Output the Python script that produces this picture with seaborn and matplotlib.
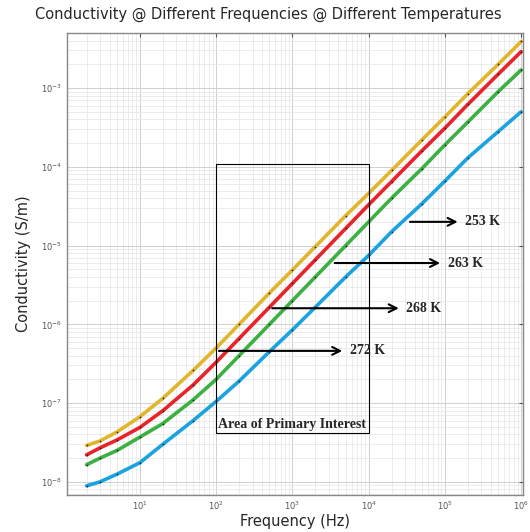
import seaborn as sns
import matplotlib.pyplot as plt
import matplotlib.ticker as mticker
import pandas as pd

# frequencies (Hz)
freq = [2, 3, 5, 10, 20, 50, 100, 200, 500, 1e3, 2e3, 5e3, 1e4, 2e4, 5e4, 1e5, 2e5, 5e5, 1e6]

# conductivity (S/m) per temperature
sig_272 = [2.9e-8, 3.3e-8, 4.3e-8, 6.7e-8, 1.15e-7, 2.6e-7, 5.0e-7, 1.0e-6, 2.5e-6, 4.9e-6,
           9.7e-6, 2.4e-5, 4.6e-5, 9.0e-5, 2.2e-4, 4.3e-4, 8.5e-4, 2.0e-3, 3.9e-3]
sig_268 = [2.2e-8, 2.7e-8, 3.4e-8, 4.9e-8, 8.0e-8, 1.7e-7, 3.3e-7, 6.6e-7, 1.65e-6, 3.3e-6,
           6.6e-6, 1.65e-5, 3.3e-5, 6.5e-5, 1.6e-4, 3.1e-4, 6.2e-4, 1.5e-3, 2.9e-3]
sig_263 = [1.65e-8, 2.0e-8, 2.5e-8, 3.7e-8, 5.5e-8, 1.1e-7, 2.0e-7, 4.0e-7, 1.0e-6, 2.0e-6,
           4.0e-6, 1.0e-5, 2.0e-5, 4.0e-5, 9.5e-5, 1.9e-4, 3.7e-4, 9.0e-4, 1.7e-3]
sig_253 = [8.9e-9, 1.0e-8, 1.25e-8, 1.75e-8, 3.0e-8, 6.0e-8, 1.05e-7, 1.9e-7, 4.5e-7, 8.5e-7,
           1.65e-6, 4.0e-6, 7.5e-6, 1.5e-5, 3.4e-5, 6.6e-5, 1.3e-4, 2.8e-4, 5.0e-4]

temps = ["272 K", "268 K", "263 K", "253 K"]
colors = ["#e2b62c", "#e8232a", "#3cb043", "#1ba3e0"]

# arrows: (label, y value, tail freq, head freq)
arrows = [("272 K", 4.6e-7, 100, 4.9e3),
          ("268 K", 1.6e-6, 500, 2.7e4),
          ("263 K", 6.0e-6, 3.3e3, 9.4e4),
          ("253 K", 2.0e-5, 3.2e4, 1.6e5)]

rows = []
for t, s in zip(temps, [sig_272, sig_268, sig_263, sig_253]):
    for f, v in zip(freq, s):
        rows.append({"freq": f, "sigma": v, "temp": t})
df = pd.DataFrame(rows)

sns.set_style("white")
fig = plt.figure(figsize=(5.3, 5.32), dpi=100)
ax = fig.add_axes([0.126, 0.0695, 0.861, 0.8685])

sns.lineplot(data=df, x="freq", y="sigma", hue="temp", palette=colors,
             linewidth=2.6, legend=False, ax=ax)
ax.scatter(df["freq"], df["sigma"], s=1.5, color="#222222", zorder=3, linewidths=0)

ax.set_xscale("log")
ax.set_yscale("log")
ax.set_xlim(1.1, 1.06e6)
ax.set_ylim(6.8e-9, 5e-3)
ax.set_xticks([1e1, 1e2, 1e3, 1e4, 1e5, 1e6])
ax.set_yticks([1e-8, 1e-7, 1e-6, 1e-5, 1e-4, 1e-3])

ax.grid(True, which="major", color="#d0d0d0", linewidth=0.7)
ax.grid(True, which="minor", color="#e4e4e4", linewidth=0.5)
ax.xaxis.set_minor_locator(mticker.LogLocator(base=10, subs=range(2, 10), numticks=20))
ax.yaxis.set_minor_locator(mticker.LogLocator(base=10, subs=range(2, 10), numticks=20))
ax.xaxis.set_minor_formatter(mticker.NullFormatter())
ax.yaxis.set_minor_formatter(mticker.NullFormatter())
ax.tick_params(which="both", direction="in", top=True, right=True, colors="#555555",
               labelsize=6, length=3)
ax.tick_params(which="minor", length=0)
for sp in ax.spines.values():
    sp.set_color("#888888")
    sp.set_linewidth(1.0)

ax.set_xlabel("Frequency (Hz)", fontsize=10.5, labelpad=1)
ax.set_ylabel("Conductivity (S/m)", fontsize=10.5, labelpad=7)
fig.text(0.507, 0.972, "Conductivity @ Different Frequencies @ Different Temperatures",
         ha="center", va="center", fontsize=10.5)

# area of primary interest
ax.add_patch(plt.Rectangle((100, 4.2e-8), 1e4 - 100, 1.07e-4 - 4.2e-8,
                           fill=False, edgecolor="black", linewidth=0.8, zorder=4))
ax.text(1000, 5.3e-8, "Area of Primary Interest", ha="center", va="center",
        fontsize=10, fontweight="bold", family="Liberation Serif", zorder=5)

for lab, yv, f0, f1 in arrows:
    ax.annotate("", xy=(f1, yv), xytext=(f0, yv),
                arrowprops=dict(arrowstyle="->", color="black", lw=1.5, mutation_scale=14),
                zorder=5)
    ax.text(f1 * 1.15, yv, lab, ha="left", va="center", fontsize=10,
            fontweight="bold", family="Liberation Serif", zorder=5)

fig.savefig("out.png", dpi=100)
